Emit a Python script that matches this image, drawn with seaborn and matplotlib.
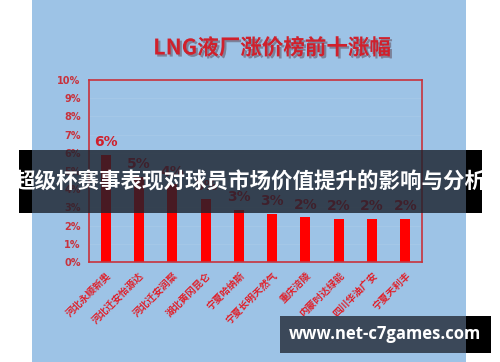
import numpy as np
import pandas as pd
import seaborn as sns
import matplotlib.pyplot as plt
from matplotlib.patches import Rectangle
import matplotlib.patheffects as pe

# data (percent)
factories = ["河北永顺新奥", "河北迁安怡源达", "河北迁安润聚", "湖北黄冈昆仑", "宁夏哈纳斯",
             "宁夏长明天然气", "重庆涪陵", "内蒙时达绿能", "四川华油广安", "宁夏天利丰"]
rise = [5.9, 4.67, 4.28, 3.46, 2.86, 2.65, 2.45, 2.38, 2.38, 2.38]
yticks = list(range(0, 11))

title = "LNG液厂涨价榜前十涨幅"
banner = "超级杯赛事表现对球员市场价值提升的影响与分析"
site = "www.net-c7games.com"

sns.set_style("white")
plt.rcParams['font.family'] = ['Noto Sans CJK SC', 'DejaVu Sans']

blue = "#9dc3e6"
red_txt = "#d0202c"
spine_c = "#c8323c"

df = pd.DataFrame({"factory": factories, "rise": rise})


def box(x0, y0, x1, y1, color, alpha=1.0):
    # rectangle in pixel coords of the 500x362 picture (y from top)
    fig.add_artist(Rectangle((x0 / 500, 1 - y1 / 362), (x1 - x0) / 500, (y1 - y0) / 362,
                             transform=fig.transFigure, facecolor=color, alpha=alpha,
                             edgecolor="none", zorder=5))


fig = plt.figure(figsize=(5, 3.62), dpi=100, facecolor="white")
# blue picture area
fig.add_artist(Rectangle((32 / 500, 0), 434 / 500, 1, transform=fig.transFigure,
                         facecolor=blue, edgecolor="none", zorder=-1))

ax = fig.add_axes([89 / 500, 1 - 262 / 362, 333 / 500, 182 / 362])
ax.set_facecolor("none")
sns.barplot(data=df, x="factory", y="rise", color="#ff0000", width=0.3,
            saturation=1, linewidth=0, ax=ax, zorder=2)
ax.set_ylim(0, 10)
ax.set_xlim(-0.5, 9.5)
ax.set_yticks(yticks, labels=[f"{t}%" for t in yticks])
for lab in ax.get_yticklabels():
    lab.set(color=spine_c, fontsize=7, fontweight="bold", family="DejaVu Sans")
ax.yaxis.grid(True, color="#a6c8e8", linewidth=0.6, zorder=0)
ax.set_xticks(range(len(factories)), labels=factories)
for lab in ax.get_xticklabels():
    lab.set(rotation=45, ha="right", rotation_mode="anchor", color="#e0202a",
            fontsize=7, fontweight="bold")
ax.set_xticks(np.arange(-0.5, 10, 1), minor=True)
ax.tick_params(axis="x", which="major", length=0, pad=6)
ax.tick_params(axis="x", which="minor", length=4, color=spine_c, direction="out")
ax.tick_params(axis="y", length=4, color=spine_c, direction="out", pad=2)
ax.set_xlabel("")
ax.set_ylabel("")
for s in ax.spines.values():
    s.set_color(spine_c)
    s.set_linewidth(1.2)

ax.bar_label(ax.containers[0], labels=[f"{round(v)}%" for v in rise],
             padding=4, color=red_txt, fontsize=10, fontweight="bold",
             family="DejaVu Sans")

fig.text(272 / 500, 1 - 48 / 362, title, ha="center", va="center", fontsize=15.5,
         fontweight="bold", color=red_txt,
         path_effects=[pe.withSimplePatchShadow(offset=(1.5, -1.5), alpha=0.35)])

# dark banner over the chart, see-through over the blue part
box(19, 150, 32, 213, "black")
box(466, 150, 482, 213, "black")
box(32, 150, 466, 213, "#1a212c", alpha=0.8)
fig.text(250 / 500, 1 - 182 / 362, banner, ha="center", va="center",
         fontsize=15.5, fontweight="bold", color="white", zorder=6)

# site watermark box
box(280, 316, 466, 353, "#3b4859")
box(466, 316, 491, 353, "black")
fig.text(385 / 500, 1 - 334 / 362, site, ha="center", va="center", fontsize=12,
         fontweight="bold", color="white", family="Open Sans", zorder=6)

fig.savefig("out.png", dpi=100)
